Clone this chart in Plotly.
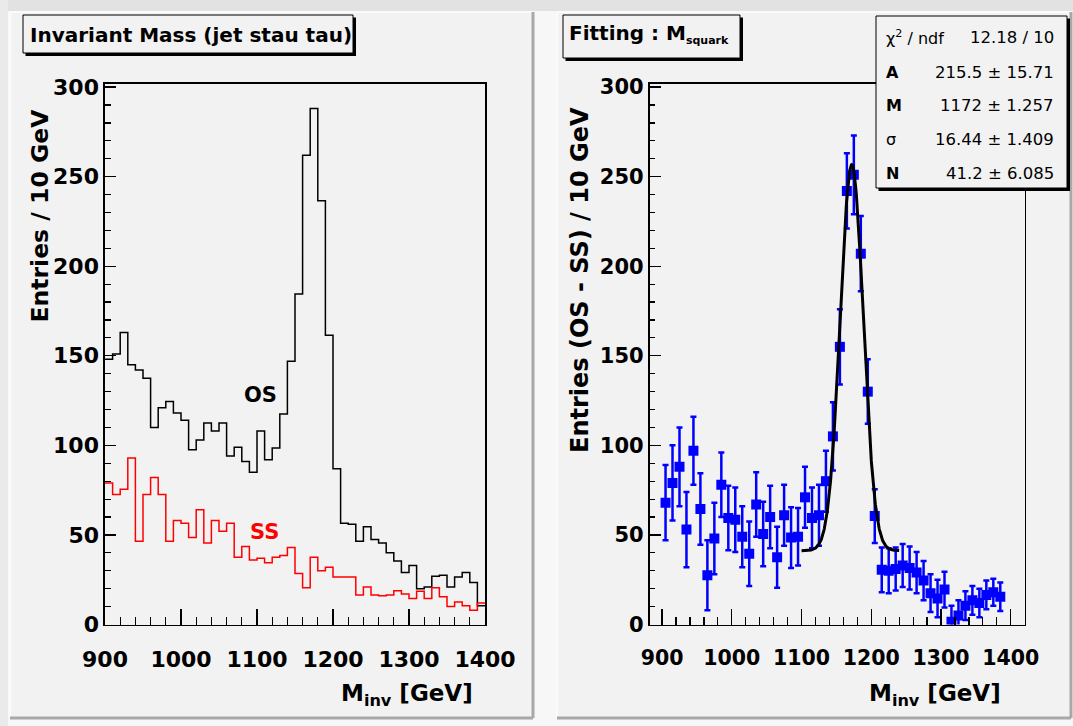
import numpy as np
import plotly.graph_objects as go

# ---------------- data ----------------
# Left panel: invariant-mass histograms, 10 GeV bins from 900 to 1400 GeV
bin_low = list(range(900, 1400, 10))
bin_width = 10
os_counts = [148, 151, 163, 145, 142, 137.5, 110, 121, 124.5, 118,
             114, 97.5, 103, 112.5, 108, 112.5, 94, 99, 91, 85,
             108, 92, 98.5, 117.5, 147, 184.5, 262, 288, 236.5, 161.5,
             87, 56.5, 56, 46.5, 54.5, 47.5, 45.5, 40, 35.5, 29,
             33, 20, 21, 27, 27.5, 21, 26.5, 29, 23.5, 10.5]
ss_counts = [79, 72.5, 75.5, 93, 46.5, 72.5, 82, 72.5, 46.5, 58,
             56.5, 48.5, 64, 45.5, 58, 52, 56.5, 37.5, 43.5, 36,
             37, 34.5, 37.5, 38.5, 43, 28.5, 20.5, 37.5, 30, 32,
             26.5, 26.5, 26.5, 16.5, 21, 16.5, 16, 16.5, 18.8, 17,
             14.5, 18.5, 14.5, 20.5, 15.5, 10, 12.5, 10.5, 8, 12]

# Right panel: OS - SS points with errors
diff_mass = list(range(905, 1395, 10))
diff_vals = [68, 79, 88, 53, 97, 64.5, 27.5, 48, 78, 59.5,
             58.5, 49, 39.5, 67, 50.5, 60, 37.5, 61, 48.5, 49,
             71, 59.5, 61, 80, 105, 155, 242, 251, 207, 130,
             60.5, 30.5, 30, 31, 33, 31.5, 29, 24.5, 17.5, 14.5,
             19.5, 1.5, 5, 10.5, 13.5, 12, 16.5, 18, 15.5]
diff_errs = [21, 21, 22, 21, 19, 20, 19.5, 20, 18, 18,
             18, 17, 18, 18, 18, 17.5, 17, 17, 17, 16,
             17, 17, 17, 17, 19, 21, 21, 22, 21, 18,
             15, 12.5, 12.5, 12, 12, 12, 11.5, 11, 10.5, 10.5,
             10, 9, 8.5, 8, 8, 8, 8, 7.5, 8]

# Fit result shown in the stats box (Gaussian + constant)
fit_A, fit_M, fit_sigma, fit_N = 215.5, 1172.0, 16.44, 41.2
fit_range = (1100, 1240)
stats_labels = ["χ<sup>2</sup> / ndf", "<b>A</b>", "<b>M</b>", "σ", "<b>N</b>"]
stats_values = ["12.18 / 10", "215.5 ± 15.71", "1172 ± 1.257", "16.44 ± 1.409", "41.2 ± 6.085"]

# ---------------- helpers ----------------
W, H = 1073, 726
FONT = "DejaVu Sans"


def X(p):
    return p / W


def Y(p):
    return 1 - p / H


fig = go.Figure()

# histograms as step outlines
edges = bin_low + [bin_low[-1] + bin_width]
fig.add_trace(go.Scatter(x=edges, y=os_counts + [os_counts[-1]], mode="lines",
                         line=dict(shape="hv", color="black", width=1.5),
                         xaxis="x", yaxis="y", hoverinfo="skip"))
fig.add_trace(go.Scatter(x=edges, y=ss_counts + [ss_counts[-1]], mode="lines",
                         line=dict(shape="hv", color="#ff0000", width=1.5),
                         xaxis="x", yaxis="y", hoverinfo="skip"))

# right panel points
fig.add_trace(go.Scatter(x=diff_mass, y=diff_vals, mode="markers",
                         marker=dict(symbol="square", size=10, color="#0000ff",
                                     line=dict(width=0)),
                         error_y=dict(type="data", array=diff_errs, color="#0000ff",
                                      thickness=2.5, width=3),
                         xaxis="x2", yaxis="y2", hoverinfo="skip"))
xf = np.linspace(fit_range[0], fit_range[1], 400)
yf = fit_N + fit_A * np.exp(-0.5 * ((xf - fit_M) / fit_sigma) ** 2)
fig.add_trace(go.Scatter(x=xf, y=yf, mode="lines",
                         line=dict(color="black", width=3),
                         xaxis="x2", yaxis="y2", hoverinfo="skip"))

# ---------------- axes ----------------
ydom = [Y(624.5), Y(83.5)]
common_x = dict(showline=True, linecolor="black", linewidth=1.6, mirror=True,
                ticks="inside", ticklen=16, tickwidth=1.3, tickcolor="black",
                dtick=100, tick0=900, showgrid=False, zeroline=False,
                ticklabelstandoff=14, automargin=False,
                minor=dict(ticks="inside", ticklen=8, dtick=20, tick0=900,
                           tickcolor="black", tickwidth=1.2, showgrid=False))
common_y = dict(showline=True, linecolor="black", linewidth=1.6, mirror=True,
                ticks="inside", ticklen=11, tickwidth=1.3, tickcolor="black",
                dtick=50, tick0=0, showgrid=False, zeroline=False,
                range=[0, 302], domain=ydom, automargin=False,
                minor=dict(ticks="inside", ticklen=5.5, dtick=10, tick0=0,
                           tickcolor="black", tickwidth=1.2, showgrid=False))

fig.update_layout(
    template="none",
    xaxis=dict(common_x, domain=[X(105), X(485)], range=[900, 1400], anchor="y",
               tickfont=dict(family=FONT, size=22, color="black", weight="bold")),
    yaxis=dict(common_y, anchor="x",
               tickfont=dict(family=FONT, size=22, color="black", weight="bold")),
    xaxis2=dict(common_x, domain=[X(649.5), X(1024.7)], range=[882, 1420], anchor="y2",
                tickfont=dict(family=FONT, size=20.5, color="black", weight="bold")),
    yaxis2=dict(common_y, anchor="x2",
                tickfont=dict(family=FONT, size=21, color="black", weight="bold")),
)

# ---------------- pads, boxes ----------------
shapes = []


def rect(x0, y0, x1, y1, fill, line_color=None, lw=0, layer="below"):
    shapes.append(dict(type="rect", xref="paper", yref="paper",
                       x0=X(x0), x1=X(x1), y0=Y(y1), y1=Y(y0),
                       fillcolor=fill, layer=layer,
                       line=dict(color=line_color or fill, width=lw)))


def line(x0, y0, x1, y1, color, lw, layer="below"):
    shapes.append(dict(type="line", xref="paper", yref="paper",
                       x0=X(x0), x1=X(x1), y0=Y(y0), y1=Y(y1), layer=layer,
                       line=dict(color=color, width=lw)))


rect(0, 0, W, 11, "#e2e2e2")
rect(0, 0, 8, H, "#eaeaea")
for (px0, px1) in [(10, 533), (557, 1071)]:
    rect(px0, 12, px1, 718, "#f2f2f2")
    line(px0, 12, px1, 12, "#fbfbfb", 2)
    line(px0, 12, px0, 718, "#fbfbfb", 2)
    line(px1, 12, px1, 718, "#a8a8a8", 3)
    line(px0, 718, px1, 718, "#a8a8a8", 3)

# title boxes (shadow + box)
rect(25.5, 17.5, 356, 56, "black", layer="above")
rect(23, 15, 353, 53, "#f2f2f2", "black", 1, layer="above")
rect(565.5, 17.5, 743, 61, "black", layer="above")
rect(563, 15, 740, 58, "#f2f2f2", "black", 1, layer="above")
# stats box
rect(878.5, 18.5, 1070, 191, "black", layer="above")
rect(876, 16, 1067, 188, "#f2f2f2", "black", 1, layer="above")

annotations = []


def text(x, y, s, size, xanchor="left", yanchor="middle", color="black",
         angle=0, bold=True):
    annotations.append(dict(x=X(x), y=Y(y), xref="paper", yref="paper",
                            text=(f"<b>{s}</b>" if bold else s), showarrow=False,
                            xanchor=xanchor, yanchor=yanchor, textangle=angle,
                            font=dict(family=FONT, size=size, color=color)))


text(28, 34.5, "Invariant Mass (jet stau tau)", 20)
text(567, 34, "Fitting : M<sub><span style='font-size:11px'>squark</span></sub>", 20)

text(39.5, 107, "Entries / 10 GeV", 23.5, xanchor="center", yanchor="top", angle=-90)
text(580, 105, "Entries (OS - SS) / 10 GeV", 24, xanchor="center", yanchor="top", angle=-90)

text(475, 695, "M<sub>inv</sub> [GeV]", 23, xanchor="right")
text(1003, 695, "M<sub>inv</sub> [GeV]", 23, xanchor="right")

text(260, 395, "OS", 21, xanchor="center")
text(264, 532, "SS", 21, xanchor="center", color="#ff0000")

rows_y = [37, 72, 105.5, 139, 174]
for lab, val, yy in zip(stats_labels, stats_values, rows_y):
    text(884, yy, lab, 16, bold=False)
    text(1056, yy, val, 16.5, xanchor="right", bold=False)

fig.update_layout(
    width=W, height=H, autosize=False,
    margin=dict(l=0, r=0, t=0, b=0, pad=0),
    paper_bgcolor="#f7f7f7", plot_bgcolor="#f2f2f2",
    showlegend=False,
    shapes=shapes, annotations=annotations,
    font=dict(family=FONT, color="black"),
)

fig.write_html("out.html", include_plotlyjs=True, full_html=True,
               config={"displayModeBar": False, "staticPlot": True},
               post_script="document.body.style.margin='0px';document.body.style.overflow='hidden';")
